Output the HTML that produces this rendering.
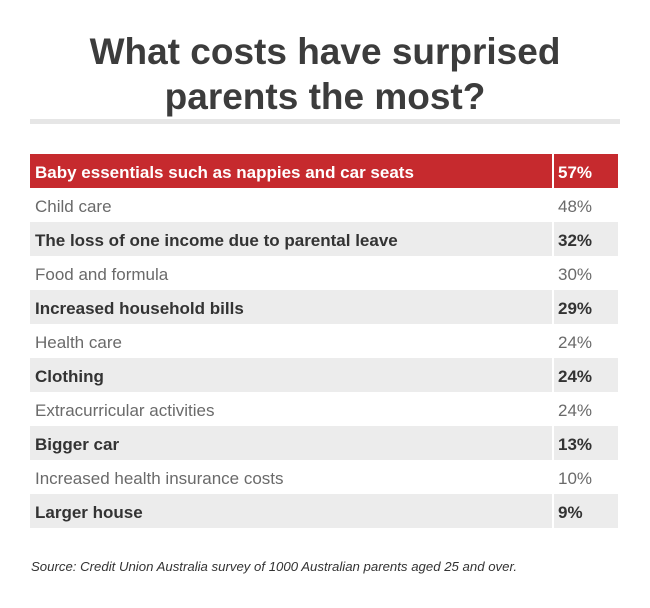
<!DOCTYPE html>
<html><head><meta charset="utf-8"><style>
body{margin:0;width:650px;height:608px;background:#fff;font-family:"Liberation Sans",sans-serif;position:relative;overflow:hidden}
h1{position:absolute;top:29px;left:0;width:650px;margin:0;text-align:center;font-size:37px;line-height:45px;font-weight:bold;color:#3c3c3c}
#rule{position:absolute;left:30px;top:119px;width:590px;height:5px;background:#e6e6e6}
.row{position:absolute;left:30px;width:588px;height:34px;font-size:17px;line-height:37px}
.lab{position:absolute;left:5px;top:0;white-space:nowrap}
.val{position:absolute;left:528px;top:0}
.div{position:absolute;left:522px;top:0;width:2px;height:34px;background:#fff}
.src{position:absolute;left:31px;top:559px;font-size:13.2px;font-style:italic;color:#333}
</style></head><body>
<h1>What costs have surprised<br>parents the most?</h1>
<div id="rule"></div>
<div id="table"></div>
<div class="src">Source: Credit Union Australia survey of 1000 Australian parents aged 25 and over.</div>
<script>
const categories=["Baby essentials such as nappies and car seats","Child care","The loss of one income due to parental leave","Food and formula","Increased household bills","Health care","Clothing","Extracurricular activities","Bigger car","Increased health insurance costs","Larger house"];
const values=[57,48,32,30,29,24,24,24,13,10,9];
const t=document.getElementById('table');
categories.forEach((c,i)=>{
  const r=document.createElement('div');
  
  
  r.className='row';r.style.top=(154+i*34)+'px';
  let bg='#fff',col='#6a6a6a',fw='normal';
  if(i===0){bg='#c62a2e';col='#fff';fw='bold';}
  else if(i%2===0){bg='#ececec';col='#333';fw='bold';}
  r.style.background=bg;r.style.color=col;r.style.fontWeight=fw;
  const l=document.createElement('span');l.className='lab';l.textContent=c;
  
  
  const v=document.createElement('span');v.className='val';v.textContent=values[i]+'%';
  
  
  const d=document.createElement('div');d.className='div';
  
  
  r.appendChild(l);r.appendChild(d);r.appendChild(v);t.appendChild(r);
});
</script>
</body></html>
